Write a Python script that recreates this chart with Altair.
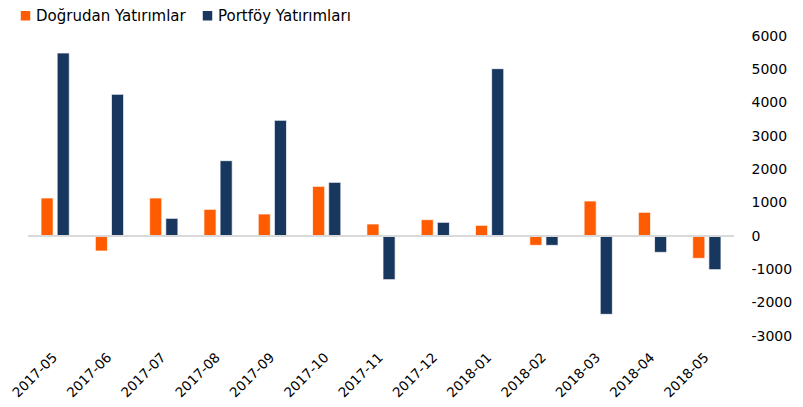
import altair as alt
import pandas as pd

months = ["2017-05", "2017-06", "2017-07", "2017-08", "2017-09", "2017-10", "2017-11",
          "2017-12", "2018-01", "2018-02", "2018-03", "2018-04", "2018-05"]
dogrudan = [1140, -450, 1140, 800, 660, 1490, 360, 490, 320, -280, 1050, 710, -670]
portfoy = [5490, 4250, 530, 2260, 3470, 1610, -1310, 410, 5020, -280, -2350, -490, -1010]
series = ["Doğrudan Yatırımlar", "Portföy Yatırımları"]
colors = ["#FF5B00", "#17375E"]
y_ticks = [-3000, -2000, -1000, 0, 1000, 2000, 3000, 4000, 5000, 6000]

rows = []
for m, d, p in zip(months, dogrudan, portfoy):
    rows.append({"month": m, "series": series[0], "value": d})
    rows.append({"month": m, "series": series[1], "value": p})
df = pd.DataFrame(rows)

FONT = "DejaVu Sans"
yscale = alt.Scale(domain=[-3000, 6000], nice=False, zero=False)
yaxis = alt.Axis(orient="right", values=y_ticks, grid=False, ticks=False,
                 domain=False, labelAlign="left", labelPadding=17,
                 labelOverlap=False, labelBound=False, labelFlush=False,
                 labelExpr="'' + datum.value",
                 labelFont=FONT, labelFontSize=14, labelColor="#000000")

bars = alt.Chart(df).mark_bar(stroke="white", strokeWidth=1, strokeOpacity=0.7).encode(
    x=alt.X("month:N", sort=months, title=None,
            scale=alt.Scale(paddingInner=0.48, paddingOuter=0.24),
            axis=alt.Axis(labelAngle=-45, labelAlign="right", labelBaseline="middle",
                          labelPadding=19, ticks=False, domain=False,
                          labelFont=FONT, labelFontSize=13.5, labelColor="#000000")),
    xOffset=alt.XOffset("series:N", sort=series, scale=alt.Scale(paddingInner=0.25)),
    y=alt.Y("value:Q", title=None, scale=yscale, axis=yaxis),
    color=alt.Color("series:N", sort=series,
                    scale=alt.Scale(domain=series, range=colors),
                    legend=alt.Legend(title=None, orient="none", direction="horizontal",
                                      legendX=-10, legendY=-28,
                                      symbolType="square", symbolSize=90,
                                      symbolStrokeWidth=0,
                                      labelFont=FONT, labelFontSize=15,
                                      labelColor="#000000", columnPadding=14,
                                      labelOffset=3)),
)

zero = alt.Chart(pd.DataFrame({"v": [0]})).mark_rule(color="#D9D9D9", strokeWidth=2).encode(
    y=alt.Y("v:Q", title=None, scale=yscale, axis=yaxis)
)

chart = alt.layer(bars, zero).properties(
    width=706, height=300,
    padding={"left": 20, "top": 28, "right": 60, "bottom": 66},
    autosize=alt.AutoSizeParams(type="none"),
).configure_view(stroke=None)

chart.save("out.html", embed_options={"renderer": "svg", "actions": False})
